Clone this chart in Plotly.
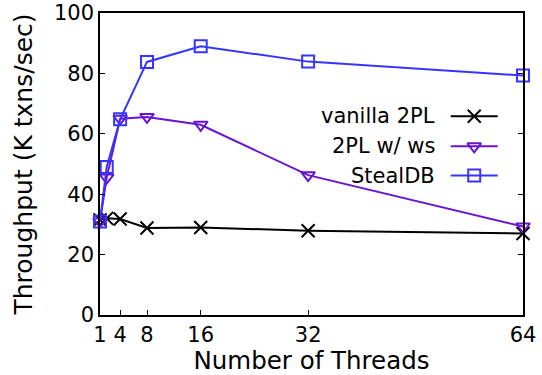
import plotly.graph_objects as go

threads = [1, 2, 4, 8, 16, 32, 64]
vanilla_2pl = [31.5, 32.0, 31.8, 28.8, 29.0, 27.9, 27.0]
ws_2pl = [31.0, 45.5, 65.0, 65.6, 63.0, 46.3, 29.3]
stealdb = [31.0, 49.0, 64.8, 83.8, 89.0, 83.9, 79.3]

series_names = ["vanilla 2PL", "2PL w/ ws", "StealDB"]
series_colors = ["#000000", "#6a14d2", "#3535ff"]
series_symbols = ["x-thin", "triangle-down-open", "square-open"]
series_sizes = [13, 12, 12]

x_ticks = [1, 4, 8, 16, 32, 64]
y_ticks = [0, 20, 40, 60, 80, 100]

FONT = "DejaVu Sans, Liberation Sans, Arial, sans-serif"

fig = go.Figure()
for name, ys, col, sym, sz in zip(series_names, [vanilla_2pl, ws_2pl, stealdb],
                                  series_colors, series_symbols, series_sizes):
    fig.add_trace(go.Scatter(
        x=threads, y=ys, mode="lines+markers", name=name,
        line=dict(color=col, width=2),
        marker=dict(symbol=sym, size=sz, color=col, line=dict(color=col, width=2)),
        showlegend=False, cliponaxis=False,
    ))

# custom gnuplot-style legend (text left, sample right) on a pixel-scaled overlay axis
leg_rows = [116.7, 146.7, 176.0]
for name, col, sym, sz, yrow in zip(series_names, series_colors, series_symbols, series_sizes, leg_rows):
    fig.add_trace(go.Scatter(
        x=[451, 498], y=[yrow, yrow], mode="lines", xaxis="x2", yaxis="y2",
        line=dict(color=col, width=2), showlegend=False, hoverinfo="skip"))
    fig.add_trace(go.Scatter(
        x=[474.5], y=[yrow], mode="markers", xaxis="x2", yaxis="y2",
        marker=dict(symbol=sym, size=sz, color=col, line=dict(color=col, width=2)),
        showlegend=False, hoverinfo="skip"))
    fig.add_annotation(x=437, y=yrow, xref="x2", yref="y2", text=name, showarrow=False,
                       xanchor="right", yanchor="middle",
                       font=dict(family=FONT, size=21, color="#000000"))

fig.update_layout(
    width=542, height=375,
    margin=dict(l=100, r=19, t=13, b=60, autoexpand=False),
    plot_bgcolor="white", paper_bgcolor="white",
    font=dict(family=FONT, size=21, color="#000000"),
    xaxis=dict(
        range=[1, 64], tickvals=x_ticks, ticktext=[str(v) for v in x_ticks],
        ticks="inside", ticklen=5, tickwidth=1, tickcolor="black",
        showline=True, linecolor="black", linewidth=1.5, mirror=True,
        showgrid=False, zeroline=False, automargin=False,
        title=dict(text="Number of Threads", font=dict(size=24.5), standoff=5),
    ),
    yaxis=dict(
        range=[0, 100], tickvals=y_ticks,
        ticks="inside", ticklen=5, tickwidth=1, tickcolor="black",
        showline=True, linecolor="black", linewidth=1.5, mirror="allticks",
        showgrid=False, zeroline=False, automargin=False,
        title=dict(text="Throughput (K txns/sec)", font=dict(size=25), standoff=14),
    ),
    xaxis2=dict(range=[100, 523.3], overlaying="x", visible=False, fixedrange=True),
    yaxis2=dict(range=[315.5, 13.3], overlaying="y", visible=False, fixedrange=True),
)

fig.write_html("out.html", config={"displayModeBar": False},
               post_script="document.body.style.margin='0';")
